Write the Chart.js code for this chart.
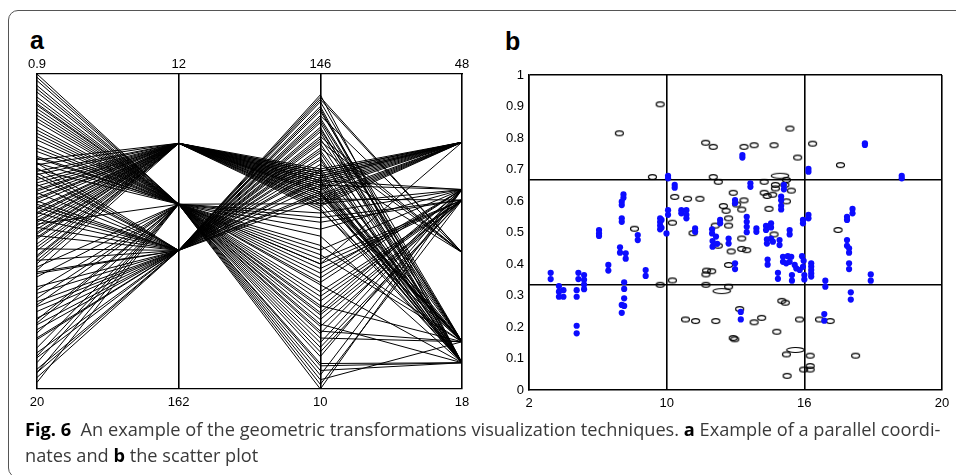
<!DOCTYPE html>
<html><head><meta charset="utf-8">
<script src="https://cdn.jsdelivr.net/npm/chart.js@4.4.1/dist/chart.umd.min.js"></script>
<style>
html,body{margin:0;padding:0;background:#fff;}
#wrap{position:relative;width:956px;height:475px;overflow:hidden;background:#fff;}
#frame{position:absolute;left:8px;top:10px;width:1000px;height:468px;border:1.5px solid #555;border-radius:10px;box-sizing:border-box;}
.plab{position:absolute;font:bold 25px/26px "Liberation Sans",Arial,sans-serif;color:#000;}
#ca{position:absolute;left:0;top:0;}
#cb{position:absolute;left:480px;top:0;}
#cap{position:absolute;left:25px;top:416px;width:931px;font:18.2px/26px "Open Sans",sans-serif;color:#3a3a3a;white-space:nowrap;}
#cap b{color:#000;font-weight:700;}
</style></head>
<body>
<div id="wrap">
  <div id="frame"></div>
  <div class="plab" style="left:30px;top:27px;">a</div>
  <div class="plab" style="left:505px;top:28px;">b</div>
  <canvas id="ca" width="480" height="420"></canvas>
  <canvas id="cb" width="476" height="420"></canvas>
  <div id="cap"><b>Fig. 6</b>&nbsp; An example of the geometric transformations visualization techniques. <b>a</b> Example of a parallel coordi-<br>nates and <b>b</b> the scatter plot</div>
</div>
<script>
// ---------- Panel a: parallel coordinates ----------
const PC_TOP_LABELS = ['0.9', '12', '146', '48'];
const PC_BOTTOM_LABELS = ['20', '162', '10', '18'];
const PC_TOP_VAL = [0.9, 12, 146, 48];
const PC_BOTTOM_VAL = [20, 162, 10, 18];
// each record: values on axis 1..4
const PC_RECORDS = [
  [7.0,45,104,41.5],[7.3,45,101,41.5],[7.7,45,99,41.5],[8.0,45,97,22.5],[8.4,45,103,41.5],
  [8.7,45,95,20.5],[9.1,45,100,41.5],[9.4,45,93,41.5],[9.8,45,98,37],[10.1,45,102,41.5],
  [10.5,45,96,22.5],[10.8,45,94,41.5],[11.2,45,91,41.5],[11.6,45,99,20.5],[12.0,45,97,41.5],
  [12.4,45,92,36],[6.4,45,105,41.5],[6.1,45,100,22.5],[9.6,45,90,41.5],[10.9,45,88,20.5],
  [8.2,45,101,41.5],[11.9,45,95,22.5],[7.5,45,89,41.5],[12.8,45,103,20.5],[9.0,45,96,41.5],
  [10.3,45,87,22.5],[6.8,45,98,41.5],[7.9,45,94,22.5],[9.3,45,102,41.5],[10.6,45,90,20.5],
  [11.4,45,104,41.5],[12.2,45,100,37],[8.5,45,92,41.5],[9.9,45,95,20.5],
  [6.3,96,137,20.5],[6.9,96,134,22.5],[7.6,96,131,20.5],[8.1,96,128,31],[8.8,96,125,20.5],
  [9.3,96,122,22.5],[9.7,96,119,31],[10.2,96,116,20.5],[7.1,96,113,22.5],[8.6,96,110,20.5],
  [13.0,96,107,31],[13.8,96,104,20.5],[14.7,96,101,22.5],[15.3,96,98,20.5],[16.1,96,95,22.5],
  [16.9,96,136,31],[17.8,96,132,20.5],[18.8,96,127,22.5],[19.3,96,123,20.5],[12.2,96,118,22.5],
  [15.0,96,114,31],[17.0,96,109,20.5],[11.5,96,105,22.5],[10.7,96,100,20.5],[14.2,96,135,31],
  [16.4,96,112,20.5],[18.1,96,126,22.5],[19.0,96,94,20.5],[12.9,96,130,22.5],[15.7,96,121,20.5],
  [6.6,96,117,31],[9.0,96,92,22.5],
  [0.9,74,90,37],[1.3,74,84,36],[1.6,74,79,37],[2.0,74,72,22.5],[2.3,74,66,36],
  [2.7,74,60,37],[3.0,74,55,20.5],[3.4,74,50,36],[3.8,74,45,37],[4.1,74,40,36],
  [4.5,74,35,22.5],[4.9,74,30,37],[5.2,74,26,36],[5.6,74,21,20.5],[6.0,74,16,37],
  [6.3,74,12,36],[1.1,74,64,41.5],[2.5,74,58,37],[3.6,74,76,20.5],[4.7,74,48,36],
  [5.9,74,70,37],[10.0,74,82,36],[13.2,74,43,37],[14.0,74,38,20.5],[14.9,74,62,36],
  [15.8,74,32,22.5],[16.6,74,24,37],[17.5,74,52,36],[18.4,74,18,20.5],[19.6,74,10,37],
  [12.6,74,68,22.5],[14.5,74,28,36],[1.8,74,86,37],[2.8,74,46,22.5],[3.2,74,37,36],
  [4.3,74,20,20.5],[5.4,74,56,37],[6.7,74,42,36],[16.0,74,14,22.5],[18.0,74,34,37],
  [19.0,74,64,36]
];

// ---------- Panel b: scatter ----------
const SC_X_TICKS = [2, 10, 16, 20];
const SC_X_LABELS = ['2', '10', '16', '20'];
const SC_Y_TICKS = [0, 0.1, 0.2, 0.3, 0.4, 0.5, 0.6, 0.7, 0.8, 0.9, 1];
const SC_Y_GRID = [1/3, 2/3];
const BLUE_POINTS = [
  [10.06,0.680],[10.06,0.672],[10.35,0.651],[10.35,0.642],
  [7.49,0.621],[7.49,0.610],[7.39,0.598],[7.39,0.587],[7.39,0.545],[7.39,0.534],
  [13.30,0.746],[13.30,0.738],[13.65,0.656],[13.65,0.645],[16.12,0.702],[16.12,0.693],
  [17.76,0.783],[17.76,0.778],[18.83,0.680],[18.83,0.672],[15.11,0.651],[15.11,0.637],
  [14.99,0.614],[14.99,0.602],[14.99,0.585],[14.99,0.573],[12.98,0.603],[12.98,0.593],
  [10.64,0.571],[10.86,0.571],[10.64,0.561],[10.86,0.556],[10.86,0.545],
  [10.06,0.571],[10.06,0.556],
  [9.62,0.545],[9.62,0.533],[9.62,0.522],[9.62,0.510],[9.70,0.540],[9.70,0.515],
  [9.99,0.497],[8.32,0.492],[8.32,0.476],[6.07,0.508],[6.07,0.497],[6.07,0.489],
  [11.24,0.513],[11.24,0.502],[11.98,0.510],[11.98,0.497],[12.33,0.540],[12.33,0.529],
  [13.49,0.550],[13.49,0.534],[13.49,0.518],[13.49,0.501],[13.91,0.513],[13.91,0.502],
  [14.33,0.521],[14.33,0.508],[14.55,0.529],[14.55,0.516],[15.36,0.508],[15.36,0.494],
  [15.94,0.540],[15.94,0.529],[16.12,0.556],[16.12,0.545],[17.24,0.550],[17.24,0.540],
  [17.40,0.575],[17.40,0.561],
  [7.29,0.453],[7.29,0.436],[7.62,0.434],[7.62,0.417],[6.61,0.397],[6.61,0.379],
  [3.26,0.372],[3.26,0.352],[3.74,0.330],[3.74,0.312],[3.74,0.296],[4.00,0.317],[4.00,0.296],
  [4.77,0.317],[4.77,0.296],[4.87,0.372],[4.87,0.352],
  [5.20,0.365],[5.20,0.350],[5.20,0.335],[5.20,0.320],[4.77,0.204],[4.77,0.180],
  [7.53,0.342],[7.53,0.321],[7.53,0.291],[7.39,0.270],[7.53,0.267],[7.39,0.245],
  [8.78,0.381],[8.78,0.362],
  [12.00,0.473],[12.00,0.455],[12.20,0.464],[12.15,0.487],[12.70,0.481],[12.70,0.465],
  [12.98,0.402],[12.98,0.384],[13.23,0.248],[13.23,0.224],
  [14.37,0.478],[14.37,0.465],[14.55,0.481],[14.63,0.471],[14.92,0.476],[14.92,0.460],
  [14.40,0.414],[14.40,0.398],[14.85,0.372],[14.85,0.353],
  [15.07,0.423],[15.28,0.425],[15.43,0.423],[15.07,0.407],[15.21,0.402],[15.36,0.407],
  [15.58,0.397],[15.65,0.386],[15.80,0.381],[15.94,0.391],[15.46,0.365],[15.46,0.347],
  [15.90,0.425],[15.97,0.410],[16.00,0.365],[16.00,0.351],
  [16.20,0.402],[16.20,0.392],[16.20,0.381],[16.20,0.370],[16.20,0.360],
  [16.61,0.347],[16.61,0.328],[17.24,0.476],[17.24,0.458],[17.30,0.450],[17.30,0.436],
  [17.30,0.402],[17.30,0.384],[17.35,0.310],[17.35,0.287],[17.93,0.367],[17.93,0.347],
  [16.58,0.241],[16.58,0.220]
];
const OPEN_POINTS = [
  [9.62,0.907],[7.25,0.815],[11.70,0.785],[12.03,0.772],[13.37,0.772],[13.81,0.777],
  [14.68,0.777],[15.37,0.830],[16.24,0.782],[15.71,0.738],[17.05,0.714],[9.17,0.676],
  [12.03,0.676],[12.25,0.661],[14.25,0.661],[14.74,0.651],[15.15,0.651],[15.22,0.667],
  [14.74,0.640],[15.43,0.633],[12.90,0.626],[14.25,0.626],[14.38,0.616],[14.62,0.620],
  [10.35,0.613],[10.91,0.607],[11.45,0.607],[13.37,0.602],[15.22,0.599],[12.47,0.584],
  [12.59,0.569],[13.05,0.589],[13.27,0.573],[14.46,0.575],[12.70,0.545],[12.70,0.522],
  [10.25,0.531],[12.12,0.522],[8.13,0.512],[11.15,0.498],[14.68,0.494],[13.27,0.481],
  [16.98,0.508],[12.25,0.458],[12.81,0.440],[13.27,0.448],[13.49,0.444],[12.70,0.397],
  [11.74,0.379],[11.96,0.377],[11.71,0.367],[10.25,0.348],[9.62,0.334],[11.71,0.334],
  [12.70,0.328],[10.82,0.224],[11.26,0.219],[12.14,0.219],[13.18,0.257],[12.90,0.165],
  [12.97,0.161],[13.81,0.215],[14.14,0.229],[14.80,0.185],[15.02,0.283],[15.17,0.277],
  [15.79,0.224],[16.44,0.224],[16.75,0.219],[15.22,0.113],[16.17,0.109],[17.49,0.109],
  [15.25,0.045],[15.97,0.065],[16.17,0.065],[16.17,0.076]
];
const WIDE_POINTS = [[14.94,0.680],[12.40,0.314],[15.61,0.127]];

const FONT = {family: '"Liberation Sans", Arial, sans-serif', size: 13};

// ----- Chart A -----
const pcDatasets = PC_RECORDS.map(r => ({
  data: r.map((v, k) => ({x: k, y: (v - PC_TOP_VAL[k]) / (PC_BOTTOM_VAL[k] - PC_TOP_VAL[k])})),
  borderColor: '#000', borderWidth: 1.0, pointRadius: 0, fill: false, tension: 0
}));
const fourTicks = s => { s.ticks = [0, 1, 2, 3].map(v => ({value: v})); };
new Chart(document.getElementById('ca'), {
  type: 'line',
  data: {datasets: pcDatasets},
  options: {
    responsive: false, animation: false, devicePixelRatio: 1,
    plugins: {legend: {display: false}, tooltip: {enabled: false}},
    layout: {padding: {left: 37, right: 18, top: 56, bottom: 9}},
    scales: {
      x: {
        type: 'linear', position: 'bottom', min: 0, max: 3,
        afterBuildTicks: fourTicks,
        ticks: {callback: (v, i) => PC_BOTTOM_LABELS[i], padding: 6, font: FONT, color: '#000', autoSkip: false, maxRotation: 0},
        grid: {color: '#000', lineWidth: 1.6, drawTicks: false},
        border: {display: true, color: '#000', width: 1.3},
        afterFit: s => { s.height = 22; s.paddingLeft = 0; s.paddingRight = 0; }
      },
      xTop: {
        type: 'linear', position: 'top', min: 0, max: 3,
        afterBuildTicks: fourTicks,
        ticks: {callback: (v, i) => PC_TOP_LABELS[i], padding: 2, font: FONT, color: '#000', autoSkip: false, maxRotation: 0},
        grid: {display: false, drawTicks: false},
        border: {display: true, color: '#000', width: 1.3},
        afterFit: s => { s.height = 18; s.paddingLeft = 0; s.paddingRight = 0; }
      },
      y: {type: 'linear', min: 0, max: 1, reverse: true, display: false}
    }
  }
});

// ----- Chart B: piecewise x scale -----
class PiecewiseScale extends Chart.LinearScale {
  getPixelForValue(value) {
    const b = SC_X_TICKS, n = b.length - 1;
    let i = 0;
    while (i < n - 1 && value > b[i + 1]) i++;
    const f = (i + (value - b[i]) / (b[i + 1] - b[i])) / n;
    return this.getPixelForDecimal(f);
  }
  getValueForPixel(pixel) {
    const b = SC_X_TICKS, n = b.length - 1;
    const d = this.getDecimalForPixel(pixel) * n;
    const i = Math.max(0, Math.min(Math.floor(d), n - 1));
    return b[i] + (d - i) * (b[i + 1] - b[i]);
  }
}
PiecewiseScale.id = 'piecewise';
PiecewiseScale.defaults = Chart.LinearScale.defaults;
Chart.register(PiecewiseScale);

function ellipseCanvas(w, h, rx, ry) {
  const c = document.createElement('canvas');
  c.width = w; c.height = h;
  const g = c.getContext('2d');
  g.strokeStyle = '#000'; g.lineWidth = 1.2;
  g.beginPath(); g.ellipse(w / 2, h / 2, rx, ry, 0, 0, Math.PI * 2); g.stroke();
  return c;
}
const smallEllipse = ellipseCanvas(11, 8, 4.0, 2.4);
const wideEllipse = ellipseCanvas(22, 8, 8.8, 2.5);
const toXY = a => a.map(([x, y]) => ({x, y}));
const yAllTicks = SC_Y_TICKS.concat(SC_Y_GRID).sort((a, b) => a - b);
const isGrid = v => SC_Y_GRID.some(g => Math.abs(g - v) < 1e-9);

new Chart(document.getElementById('cb'), {
  type: 'scatter',
  data: {datasets: [
    {data: toXY(BLUE_POINTS), pointRadius: 3.1, pointBackgroundColor: '#0c0cff', pointBorderWidth: 0, showLine: false},
    {data: toXY(OPEN_POINTS), pointStyle: smallEllipse, pointRadius: 3, showLine: false},
    {data: toXY(WIDE_POINTS), pointStyle: wideEllipse, pointRadius: 3, showLine: false}
  ]},
  options: {
    responsive: false, animation: false, devicePixelRatio: 1,
    plugins: {legend: {display: false}, tooltip: {enabled: false}},
    layout: {padding: {left: 0, right: 14, top: 75, bottom: 8}},
    scales: {
      x: {
        type: 'piecewise', min: 2, max: 20,
        afterBuildTicks: s => { s.ticks = SC_X_TICKS.map(v => ({value: v})); },
        ticks: {callback: (v, i) => SC_X_LABELS[i], padding: 6, font: FONT, color: '#000', autoSkip: false, maxRotation: 0},
        grid: {color: '#000', lineWidth: 1.6, drawTicks: false},
        border: {display: true, color: '#000', width: 1.5},
        afterFit: s => { s.height = 22; s.paddingLeft = 0; s.paddingRight = 0; }
      },
      y: {
        type: 'linear', min: 0, max: 1,
        afterBuildTicks: s => { s.ticks = yAllTicks.map(v => ({value: v})); },
        ticks: {callback: v => isGrid(v) ? '' : String(Math.round(v * 10) / 10), padding: 5, font: FONT, color: '#000', autoSkip: false},
        grid: {
          color: ctx => (ctx.tick && (isGrid(ctx.tick.value) || ctx.tick.value === 1)) ? '#000' : 'rgba(0,0,0,0)',
          lineWidth: 1.5, drawTicks: false
        },
        border: {display: true, color: '#000', width: 1.5},
        afterFit: s => { s.width = 49; s.paddingTop = 0; s.paddingBottom = 0; }
      }
    }
  }
});
</script>
</body></html>
